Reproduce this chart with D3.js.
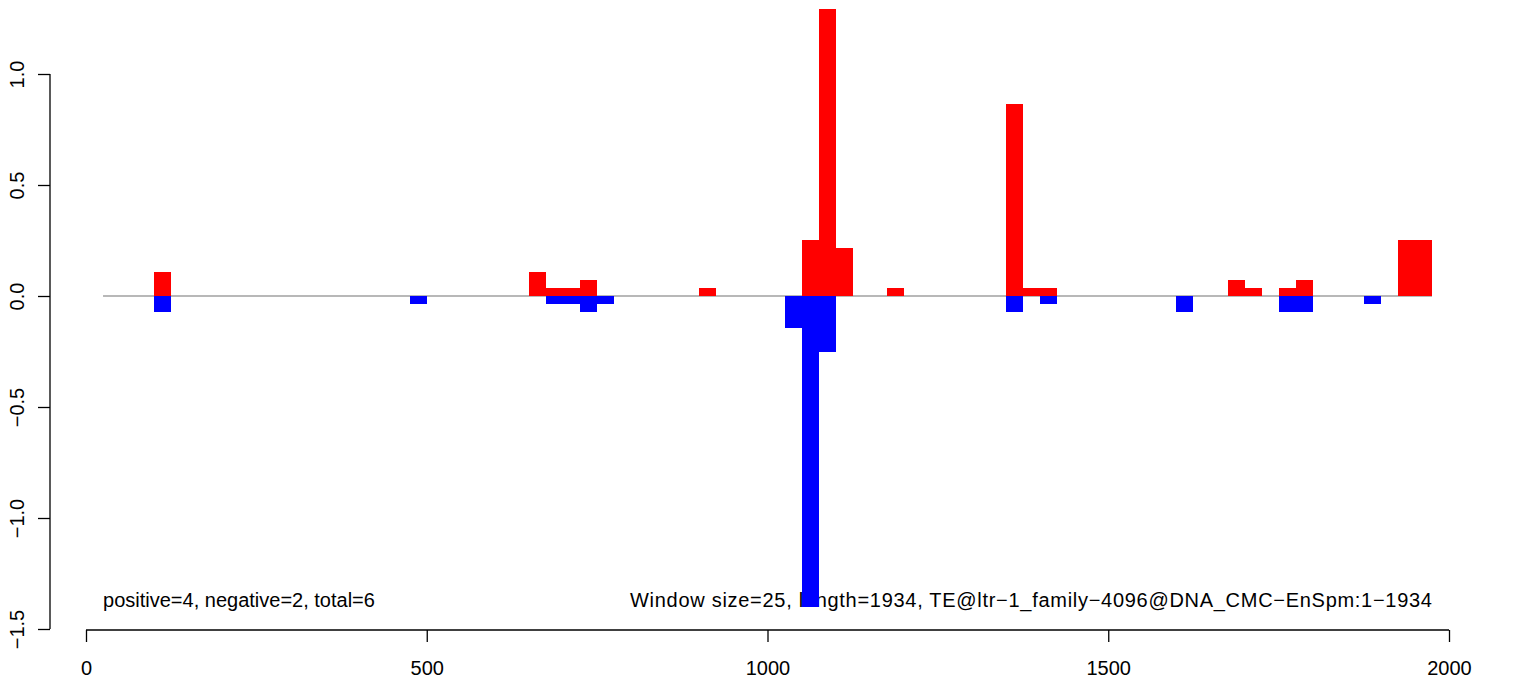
<!DOCTYPE html>
<html><head><meta charset="utf-8">
<script src="https://cdn.jsdelivr.net/npm/d3@7"></script>
<style>body{margin:0;background:#fff}svg{display:block}text{font-family:"Liberation Sans",Arial,sans-serif;fill:#000}</style>
</head><body>
<script>
// Window starts (bp) and values
const posStarts = [100, 650, 675, 700, 725, 900, 1050, 1075, 1100, 1175, 1350, 1375, 1400, 1675, 1700, 1750, 1775, 1925, 1950];
const posValues = [0.108, 0.108, 0.036, 0.036, 0.072, 0.036, 0.252, 1.293, 0.216, 0.036, 0.865, 0.036, 0.036, 0.072, 0.036, 0.036, 0.072, 0.252, 0.252];
const negStarts = [100, 475, 675, 700, 725, 750, 1025, 1050, 1075, 1350, 1400, 1600, 1750, 1775, 1875];
const negValues = [-0.072, -0.036, -0.036, -0.036, -0.072, -0.036, -0.143, -1.40, -0.251, -0.072, -0.036, -0.072, -0.072, -0.072, -0.036];
const windowSize = 25;
const lineRange = [25, 1975];
const xTicks = [0, 500, 1000, 1500, 2000];
const yTicks = [-1.5, -1.0, -0.5, 0.0, 0.5, 1.0];
const leftLabel = "positive=4, negative=2, total=6";
const rightLabel = "Window size=25, length=1934, TE@ltr\u22121_family\u22124096@DNA_CMC\u2212EnSpm:1\u22121934";

const W = 1536, H = 681;
const svg = d3.select("body").append("svg").attr("width", W).attr("height", H);
const x = d3.scaleLinear().domain([0, 2000]).range([86, 1449]);
const y = d3.scaleLinear().domain([-1.5, 1.0]).range([629, 74]);
const fmtY = v => d3.format(".1f")(v).replace("-", "\u2212");

// annotation texts (drawn under bars)
svg.append("text").attr("x", x(lineRange[0])).attr("y", 607).attr("font-size", 20).text(leftLabel);
svg.append("text").attr("x", 630).attr("y", 607).attr("font-size", 20)
  .attr("textLength", x(lineRange[1]) - 630).attr("lengthAdjust", "spacing").text(rightLabel);

// zero line
svg.append("line").attr("x1", x(lineRange[0])).attr("x2", x(lineRange[1]))
  .attr("y1", y(0)).attr("y2", y(0)).attr("stroke", "#a0a0a0").attr("stroke-width", 1.5);

// bars
svg.append("g").attr("shape-rendering", "crispEdges").selectAll("rect")
  .data(posStarts.map((s, i) => ({s, v: posValues[i]}))).join("rect")
  .attr("x", d => x(d.s)).attr("width", d => x(d.s + windowSize) - x(d.s))
  .attr("y", d => y(d.v)).attr("height", d => y(0) - y(d.v)).attr("fill", "#ff0000");
svg.append("g").attr("shape-rendering", "crispEdges").selectAll("rect")
  .data(negStarts.map((s, i) => ({s, v: negValues[i]}))).join("rect")
  .attr("x", d => x(d.s)).attr("width", d => x(d.s + windowSize) - x(d.s))
  .attr("y", d => y(0)).attr("height", d => y(d.v) - y(0)).attr("fill", "#0000ff");

// x axis
const gx = svg.append("g").attr("transform", "translate(0,630)")
  .call(d3.axisBottom(x).tickValues(xTicks).tickSize(12).tickPadding(19).tickSizeOuter(0).tickFormat(d3.format("d")));
gx.selectAll("text").attr("font-size", 20).attr("font-family", "Liberation Sans, Arial, sans-serif").attr("fill", "#000");
gx.selectAll("line,path").attr("stroke", "#000").attr("stroke-width", 1.3);
gx.select(".domain").attr("d", `M${x(0)},0H${x(2000)}`);

// y axis
const gy = svg.append("g").attr("transform", "translate(50,0)")
  .call(d3.axisLeft(y).tickValues(yTicks).tickSize(12).tickSizeOuter(0).tickFormat(fmtY));
gy.selectAll("line,path").attr("stroke", "#000").attr("stroke-width", 1.3);
gy.select(".domain").attr("d", `M0,${y(-1.5)}V${y(1.0)}`);
gy.selectAll("text").attr("font-size", 20).attr("font-family", "Liberation Sans, Arial, sans-serif").attr("fill", "#000")
  .attr("text-anchor", "middle").attr("dy", null).attr("x", null)
  .attr("transform", "translate(-26,0) rotate(-90)").attr("y", 0);
</script>
</body></html>
